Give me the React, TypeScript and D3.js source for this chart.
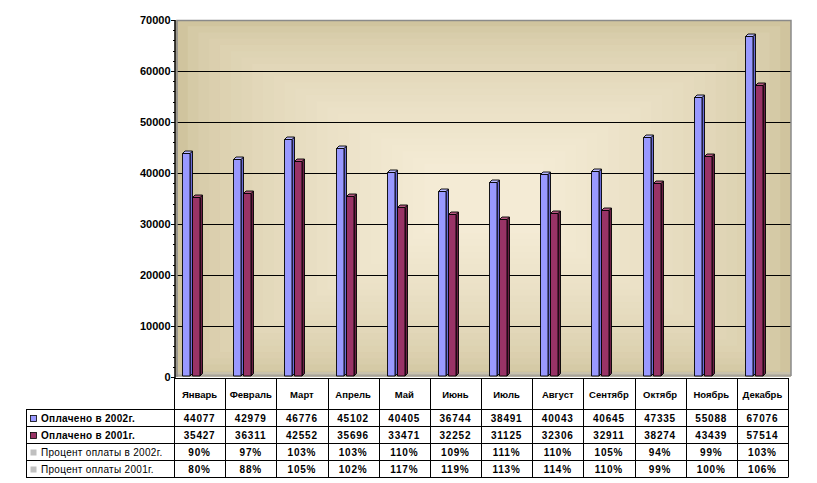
import React from "react";
import * as d3 from "d3";

const categories = ["Январь","Февраль","Март","Апрель","Май","Июнь","Июль","Август","Сентябр","Октябр","Ноябрь","Декабрь"];
const paid2002 = [44077,42979,46776,45102,40405,36744,38491,40043,40645,47335,55088,67076];
const paid2001 = [35427,36311,42552,35696,33471,32252,31125,32306,32911,38274,43439,57514];
const pct2002 = ["90%","97%","103%","103%","110%","109%","111%","110%","105%","94%","99%","103%"];
const pct2001 = ["80%","88%","105%","102%","117%","119%","113%","114%","110%","99%","100%","106%"];
const seriesNames = ["Оплачено в 2002г.","Оплачено в 2001г."];
const pctNames = ["Процент оплаты в 2002г.","Процент оплаты  2001г."];
const yTicks = [0,10000,20000,30000,40000,50000,60000,70000];

const W = 817, H = 483;
const plotL = 177, plotR = 791, plotT = 20, plotB = 377;
const tableL = 174, tableR = 788, legendL = 26;
const rowY = [378, 409, 426, 443, 460, 477];
const FONT = "'Liberation Sans', Arial, sans-serif";

const seriesStyle = [
  { front: "#9999FF", side: "#6B6BD6", top: "#B8B8FF" },
  { front: "#993366", side: "#6A1F45", top: "#B5577F" },
];

export default function App() {
  const y = d3.scaleLinear().domain([0, 70000]).range([plotB, plotT]);
  const x = d3.scaleBand<string>().domain(categories).range([tableL, tableR]).padding(0);
  const inner = d3.scaleBand<string>().domain(["a", "b"]).range([8, 28]).padding(0);
  const bw = x.bandwidth();
  const minor = d3.range(0, 70001, 2000);

  // rectangular gradient background rings
  const rings = 24;
  const col = d3.interpolateRgb("#D0C49E", "#F5ECD6");
  const ringEls = d3.range(rings).map((i) => {
    const t = i / rings;
    const dx = t * (plotR - plotL) * 0.42;
    const dy = t * (plotB - plotT) * 0.42;
    return (
      <rect key={i} x={plotL + dx} y={plotT + dy} width={plotR - plotL - 2 * dx} height={plotB - plotT - 2 * dy}
        fill={col(Math.pow(t, 0.6))} />
    );
  });

  const bars: React.ReactNode[] = [];
  [paid2002, paid2001].forEach((vals, si) => {
    const st = seriesStyle[si];
    vals.forEach((v, i) => {
      const x0 = Math.round((x(categories[i]) as number) + (inner(si === 0 ? "a" : "b") as number)) + 0.5;
      const fw = 7.5, d = 2.5;
      const yt = Math.round(y(v)) + 1.5;
      const base = 376;
      bars.push(
        <g key={`${si}-${i}`} stroke="#000" strokeWidth={0.9} strokeLinejoin="round">
          <polygon points={`${x0 + fw},${yt} ${x0 + fw + d},${yt - d} ${x0 + fw + d},${base - d} ${x0 + fw},${base}`} fill={st.side} />
          <rect x={x0} y={yt} width={fw} height={base - yt} fill={st.front} />
          <polygon points={`${x0},${yt} ${x0 + fw},${yt} ${x0 + fw + d},${yt - d} ${x0 + d},${yt - d}`} fill={st.top} />
        </g>
      );
    });
  });

  const rowsData = [paid2002.map(String), paid2001.map(String), pct2002, pct2001];
  const legendSw = ["#9999FF", "#993366", "#C0C0C0", "#C0C0C0"];
  const legendLabels = [...seriesNames, ...pctNames];

  return (
    <svg width={W} height={H} style={{ position: "absolute", left: 0, top: 0 }} fontFamily={FONT}>
      <rect width={W} height={H} fill="#fff" />
      {ringEls}
      {/* left side wall strip */}
      <rect x={175} y={plotT} width={3} height={plotB - plotT} fill="#CFC39D" />
      {/* floor */}
      <rect x={175} y={372} width={plotR - 175} height={5} fill="#C9C2AC" />
      <line x1={175} x2={plotR} y1={375.5} y2={375.5} stroke="#A8A39A" strokeWidth={2} />
      {/* gridlines */}
      {yTicks.filter((t) => t > 0 && t < 70000).map((t) => (
        <line key={t} x1={plotL} x2={plotR} y1={Math.round(y(t)) + 0.5} y2={Math.round(y(t)) + 0.5} stroke="#000" strokeWidth={1} />
      ))}
      {/* plot border */}
      <path d={`M${plotL},${plotB} V${plotT + 0.5} H${plotR} V${plotB - 1}`} fill="none" stroke="#8A8A8A" strokeWidth={1.5} />
      {bars}
      {/* y axis */}
      <line x1={175} x2={175} y1={plotT} y2={378} stroke="#000" strokeWidth={1.5} />
      {minor.map((t) => (
        <line key={t} x1={173} x2={175} y1={Math.round(y(t)) + 0.5} y2={Math.round(y(t)) + 0.5} stroke="#000" strokeWidth={1} />
      ))}
      {yTicks.map((t) => (
        <g key={t}>
          <line x1={171} x2={175} y1={Math.round(y(t)) + 0.5} y2={Math.round(y(t)) + 0.5} stroke="#000" strokeWidth={1} />
          <text x={170.5} y={y(t)} dy="0.36em" textAnchor="end" fontSize={11} fontWeight="bold">{t}</text>
        </g>
      ))}
      {/* table */}
      <g stroke="#000" strokeWidth={1}>
        <line x1={tableL} x2={tableR} y1={rowY[0] + 0.5} y2={rowY[0] + 0.5} />
        {rowY.slice(1).map((ry) => (
          <line key={ry} x1={legendL} x2={tableR} y1={ry + 0.5} y2={ry + 0.5} />
        ))}
        <line x1={legendL + 0.5} x2={legendL + 0.5} y1={rowY[1]} y2={rowY[5] + 0.5} />
        {categories.map((c) => (
          <line key={c} x1={Math.round(x(c) as number) + 0.5} x2={Math.round(x(c) as number) + 0.5} y1={rowY[0]} y2={rowY[5] + 0.5} />
        ))}
        <line x1={tableR + 0.5} x2={tableR + 0.5} y1={rowY[0]} y2={rowY[5] + 0.5} />
      </g>
      {categories.map((c) => (
        <text key={c} x={(x(c) as number) + bw / 2} y={(rowY[0] + rowY[1]) / 2 + 1} dy="0.35em" textAnchor="middle" fontSize={9.5} fontWeight="bold">{c}</text>
      ))}
      {rowsData.map((row, ri) =>
        row.map((v, i) => (
          <text key={`${ri}-${i}`} x={(x(categories[i]) as number) + bw / 2} y={(rowY[ri + 1] + rowY[ri + 2]) / 2 + 0.5} dy="0.36em"
            textAnchor="middle" fontSize={10} fontWeight="bold" letterSpacing={0.8}>{v}</text>
        ))
      )}
      {legendLabels.map((l, ri) => {
        const cy = (rowY[ri + 1] + rowY[ri + 2]) / 2 + 0.5;
        return (
          <g key={l}>
            <rect x={30.5} y={Math.round(cy - 3.5) + 0.5} width={6} height={6} fill={legendSw[ri]} stroke={ri < 2 ? "#000" : "none"} strokeWidth={0.8} />
            <text x={41} y={cy} dy="0.36em" fontSize={10} fontWeight={ri < 2 ? "bold" : "normal"} letterSpacing={0.3}>{l}</text>
          </g>
        );
      })}
    </svg>
  );
}
